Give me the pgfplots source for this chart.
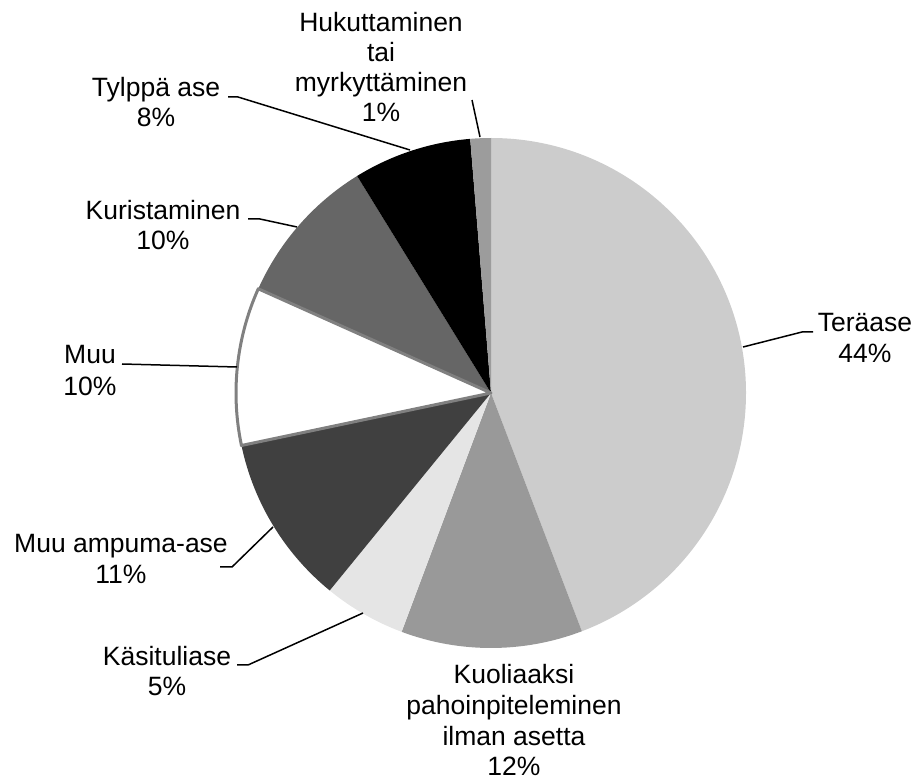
\documentclass[border=0pt]{standalone}
\usepackage{fontspec}
\setmainfont{Liberation Sans}
\usepackage{pgfplots}
\usepackage{pgfplotstable}
\pgfplotsset{compat=1.18}

\definecolor{cTera}{HTML}{CCCCCC}
\definecolor{cKuol}{HTML}{999999}
\definecolor{cKasi}{HTML}{E5E5E5}
\definecolor{cAmpu}{HTML}{404040}
\definecolor{cKuri}{HTML}{666666}
\definecolor{cHuku}{HTML}{9C9C9C}
\definecolor{cEdge}{HTML}{808080}

% share in %, clockwise from 12 o'clock
\pgfplotstableread{
value fill edge
44.2  cTera none
11.5  cKuol none
5.2   cKasi none
10.8  cAmpu none
10.0  white cEdge
9.5   cKuri none
7.5   black none
1.3   cHuku none
}\piedata

\newcommand\lbl[3]{\node[anchor=base,inner sep=0pt] at (axis cs:#1,#2) {#3};}

\begin{document}
\begin{tikzpicture}
\begin{axis}[
    width=917bp, height=780bp, scale only axis,
    xmin=0, xmax=917, ymin=0, ymax=780,
    y dir=reverse,
    hide axis, clip=false,
    font=\fontsize{26.5bp}{31bp}\selectfont,
]
\path (rel axis cs:0,0) rectangle (rel axis cs:1,1);

\gdef\cum{0}
\gdef\alledges{}
\pgfplotsinvokeforeach{0,...,7}{
    \pgfplotstablegetelem{#1}{value}\of\piedata \let\v\pgfplotsretval
    \pgfplotstablegetelem{#1}{fill}\of\piedata \let\fc\pgfplotsretval
    \pgfplotstablegetelem{#1}{edge}\of\piedata \let\dc\pgfplotsretval
    \pgfmathsetmacro\a{90-3.6*\cum}
    \pgfmathsetmacro\b{90-3.6*(\cum+\v)}
    \pgfmathsetmacro\newcum{\cum+\v}
    \xdef\cum{\newcum}
    \edef\wedge{\noexpand\path[fill=\fc] (axis cs:491,393) -- ++(\a:255bp)
        arc[start angle=\a, end angle=\b, radius=255bp] -- cycle;}
    \wedge
    \edef\edgeline{\noexpand\path[draw=\dc, line width=3bp, line join=round]
        (axis cs:491,393) -- ++(\a:255bp)
        arc[start angle=\a, end angle=\b, radius=255bp] -- cycle;}
    \xdef\alledges{\unexpanded\expandafter{\alledges}\unexpanded\expandafter{\edgeline}}
}
\alledges

% leader lines
\draw[line width=1.5bp] (axis cs:743,347) -- (axis cs:802,332) -- (axis cs:813,332);
\draw[line width=1.5bp] (axis cs:363,613) -- (axis cs:248,665) -- (axis cs:237,665);
\draw[line width=1.5bp] (axis cs:273,527) -- (axis cs:232,567) -- (axis cs:220,567);
\draw[line width=1.5bp] (axis cs:122,364) -- (axis cs:237,367);
\draw[line width=1.5bp] (axis cs:248,219) -- (axis cs:260,219) -- (axis cs:297,227);
\draw[line width=1.5bp] (axis cs:228,97) -- (axis cs:238,97) -- (axis cs:410,150);
\draw[line width=1.5bp] (axis cs:472,100) -- (axis cs:480,137);

% labels
\lbl{865}{332}{Teräase}
\lbl{865}{363}{44\%}
\lbl{514}{683}{Kuoliaaksi}
\lbl{514}{714}{pahoinpiteleminen}
\lbl{514}{745}{ilman asetta}
\lbl{514}{775}{12\%}
\lbl{167}{665}{Käsituliase}
\lbl{167}{695}{5\%}
\lbl{121}{552}{Muu ampuma-ase}
\lbl{121}{583}{11\%}
\lbl{90}{364}{Muu}
\lbl{90}{395}{10\%}
\lbl{163}{220}{Kuristaminen}
\lbl{163}{250}{10\%}
\lbl{156}{97}{Tylppä ase}
\lbl{156}{127}{8\%}
\lbl{381}{32}{Hukuttaminen}
\lbl{381}{62}{tai}
\lbl{381}{92}{myrkyttäminen}
\lbl{381}{122}{1\%}
\end{axis}
\end{tikzpicture}
\end{document}
